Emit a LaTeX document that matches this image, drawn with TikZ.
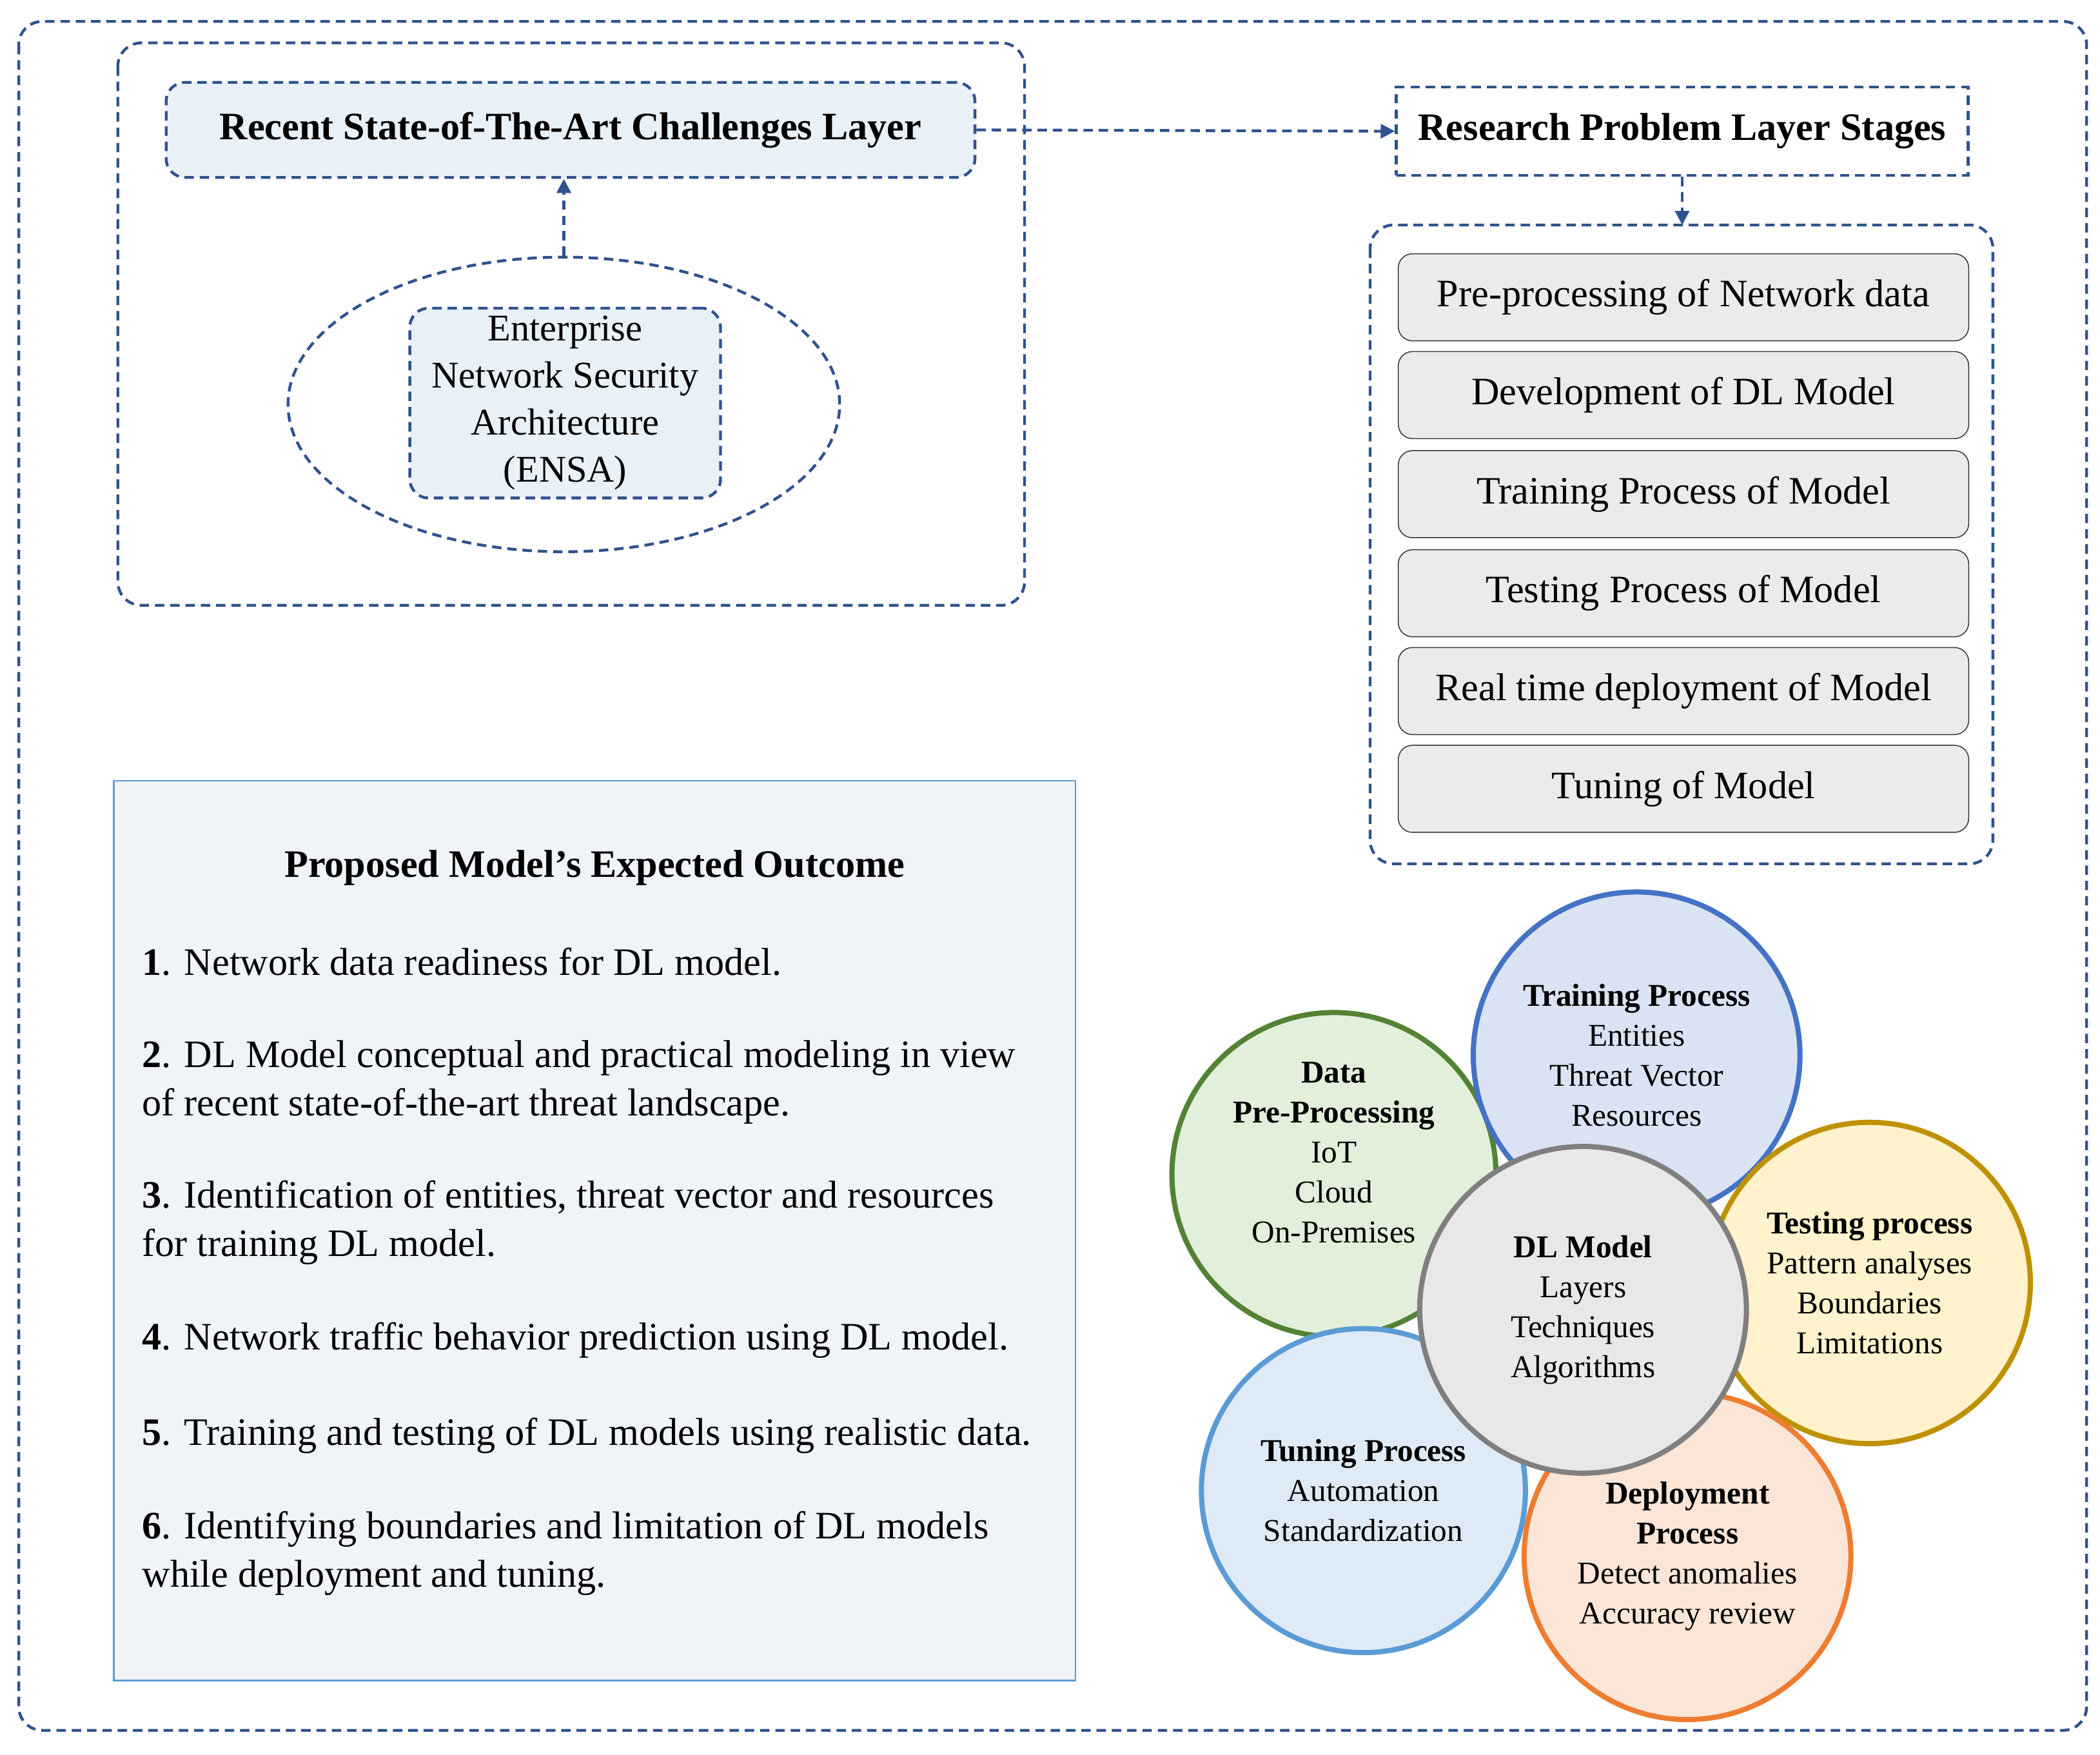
\documentclass[tikz,border=0pt]{standalone}
\usepackage{fontspec}
\setmainfont{Liberation Serif}
\usetikzlibrary{shapes.geometric,arrows.meta}
\definecolor{db}{RGB}{47,82,143}
\definecolor{lb}{RGB}{232,240,248}
\definecolor{gb}{RGB}{235,235,235}
\definecolor{ob}{RGB}{240,244,248}
\definecolor{obb}{RGB}{91,155,213}
\begin{document}
\begin{tikzpicture}[x=0.02cm,y=-0.02cm,
  dsh/.style={draw=db,line width=1.2pt,dash pattern=on 4pt off 2.5pt},
  stage/.style={draw=black!80,fill=gb,rounded corners=6pt,minimum width=8.52cm,minimum height=1.3cm,font=\fontsize{16.5}{19}\selectfont},
  item/.style={anchor=west,align=left,font=\fontsize{16.5}{20.5}\selectfont},
  circ/.style={circle,line width=2.2pt,align=center,inner sep=0pt,font=\fontsize{13.5}{17}\selectfont},
  arr/.style={dsh,-{Triangle[length=6pt,width=6pt]}}]
\useasboundingbox (0,0) rectangle (1568,1310);
\draw[dsh,rounded corners=10pt] (14,16) rectangle (1558,1292);
\draw[dsh,rounded corners=10pt] (88,32) rectangle (765,452);
\node[dsh,fill=lb,rounded corners=8pt,minimum width=12.08cm,minimum height=1.42cm,font=\bfseries\fontsize{16.5}{19}\selectfont] (chal) at (426,97) {Recent State-of-The-Art Challenges Layer};
\node[dsh,ellipse,minimum width=8.24cm,minimum height=4.4cm] (ell) at (421,302) {};
\node[dsh,fill=lb,rounded corners=8pt,minimum width=4.64cm,minimum height=2.66cm,align=center,font=\fontsize{16}{20}\selectfont] (ensa) at (422,301) {Enterprise\\Network Security\\Architecture\\(ENSA)};
\draw[arr] (ell.north) -- (ell.north |- chal.south);
\node[dsh,minimum width=8.54cm,minimum height=1.32cm,font=\bfseries\fontsize{16.5}{19}\selectfont] (rp) at (1256,98) {Research Problem Layer Stages};
\draw[arr] (chal.east) -- (rp.west);
\draw[dsh,rounded corners=10pt] (1023,168) rectangle (1488,645);
\coordinate (stc) at (1256,168);
\draw[arr] (rp.south) -- (stc);
\node[stage] (s1) at (1257,222) {Pre-processing of Network data};
\node[stage] (s2) at (1257,295) {Development of DL Model};
\node[stage] (s3) at (1257,369) {Training Process of Model};
\node[stage] (s4) at (1257,443) {Testing Process of Model};
\node[stage] (s5) at (1257,516) {Real time deployment of Model};
\node[stage] (s6) at (1257,589) {Tuning of Model};
\draw[draw=obb,fill=ob,line width=0.8pt] (85,583) rectangle (803,1255);
\node[font=\bfseries\fontsize{16.5}{19}\selectfont] (ot) at (444,648) {Proposed Model’s Expected Outcome};
\node[item] (o1) at (100,718) {\textbf{1}. Network data readiness for DL model.};
\node[item] (o2) at (100,808) {\textbf{2}. DL Model conceptual and practical modeling in view\\of recent state-of-the-art threat landscape.};
\node[item] (o3) at (100,913) {\textbf{3}. Identification of entities, threat vector and resources\\for training DL model.};
\node[item] (o4) at (100,1001) {\textbf{4}. Network traffic behavior prediction using DL model.};
\node[item] (o5) at (100,1072) {\textbf{5}. Training and testing of DL models using realistic data.};
\node[item] (o6) at (100,1160) {\textbf{6}. Identifying boundaries and limitation of DL models\\while deployment and tuning.};
\node[circ,draw={rgb,255:red,84;green,130;blue,53},fill={rgb,255:red,226;green,239;blue,218},minimum size=4.84cm] (cd) at (996,877) {\textbf{Data}\\\textbf{Pre-Processing}\\IoT\\Cloud\\On-Premises\\[2pt]};
\node[circ,draw={rgb,255:red,68;green,114;blue,196},fill={rgb,255:red,218;green,227;blue,243},minimum size=4.88cm] (ctr) at (1222,788) {\textbf{Training Process}\\Entities\\Threat Vector\\Resources};
\node[circ,draw={rgb,255:red,191;green,144;blue,0},fill={rgb,255:red,255;green,242;blue,204},minimum size=4.8cm] (cte) at (1396,958) {\textbf{Testing process}\\Pattern analyses\\Boundaries\\Limitations};
\node[circ,draw={rgb,255:red,237;green,125;blue,49},fill={rgb,255:red,251;green,229;blue,214},minimum size=4.88cm] (cde) at (1260,1162) {\textbf{Deployment}\\\textbf{Process}\\Detect anomalies\\Accuracy review};
\node[circ,draw={rgb,255:red,91;green,155;blue,213},fill={rgb,255:red,222;green,235;blue,247},minimum size=4.84cm] (ctu) at (1018,1113) {\textbf{Tuning Process}\\Automation\\Standardization};
\node[circ,draw={rgb,255:red,127;green,127;blue,127},fill={rgb,255:red,232;green,232;blue,232},minimum size=4.88cm] (cdl) at (1182,978) {\textbf{DL Model}\\Layers\\Techniques\\Algorithms};
\end{tikzpicture}
\end{document}
